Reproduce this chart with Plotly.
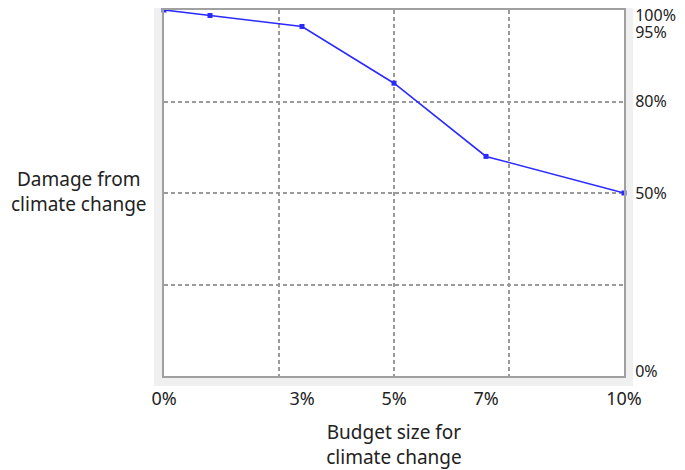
import plotly.graph_objects as go

# budget share (%) vs remaining damage (%)
budget = [0, 1, 3, 5, 7, 10]
damage = [100, 98.5, 95.5, 80, 60, 50]

x_ticks = [0, 3, 5, 7, 10]
x_labels = ['0%', '3%', '5%', '7%', '10%']

y_labels = ['100%', '95%', '80%', '50%', '0%']
y_label_at = [98.6, 93.8, 74.9, 50, 1.2]

FONT = 'Noto Sans'
TXT = '#222222'

fig = go.Figure(go.Scatter(
    x=budget, y=damage,
    mode='lines+markers',
    line=dict(color='#2a2aff', width=1.6),
    marker=dict(symbol='square', size=5, color='#2a2aff'),
    cliponaxis=False,
    hoverinfo='skip',
))

# page body has an 8px margin, so margins are shifted by 8px
fig.update_layout(
    width=677, height=462,
    margin=dict(l=156, r=61, t=2, b=94),
    paper_bgcolor='white',
    plot_bgcolor='white',
    showlegend=False,
    font=dict(family=FONT, size=18, color=TXT),
    shapes=[
        # light grey band round the plot
        dict(type='rect', xref='paper', yref='paper', layer='below',
             x0=-0.0217, x1=1.0196, y0=-0.0273, y1=1.0273,
             fillcolor='#f0f0f0', line=dict(width=0)),
        dict(type='rect', xref='paper', yref='paper', layer='below',
             x0=0, x1=1, y0=0, y1=1,
             fillcolor='white', line=dict(width=0)),
    ],
    annotations=[
        dict(text='Damage from<br>climate change', xref='paper', yref='paper',
             x=-0.338, y=0.505, xanchor='left', yanchor='middle',
             showarrow=False, align='center', font=dict(size=19)),
    ],
)

fig.update_xaxes(
    range=[0, 10], tickmode='array', tickvals=x_ticks, ticktext=x_labels,
    tickfont=dict(size=18), automargin=False, ticklabelstandoff=5,
    showgrid=False, zeroline=False, ticks='',
    showline=True, mirror=True, linecolor='#a0a0a0', linewidth=2,
    minor=dict(tickmode='array', tickvals=[2.5, 5, 7.5], showgrid=True,
               gridcolor='#9a9a9a', gridwidth=1.5, griddash='4px,3px', ticks=''),
    title=dict(text='Budget size for<br>climate change', standoff=18,
               font=dict(size=19)),
)

fig.update_yaxes(
    range=[0, 100], side='right', tickmode='array',
    tickvals=y_label_at, ticktext=y_labels,
    tickfont=dict(size=16), automargin=False, ticklabeloverflow='allow',
    showgrid=False, zeroline=False, ticks='', ticklabelstandoff=6,
    showline=True, mirror=True, linecolor='#a0a0a0', linewidth=2,
    minor=dict(tickmode='array', tickvals=[25, 50, 75], showgrid=True,
               gridcolor='#9a9a9a', gridwidth=1.5, griddash='4px,3px', ticks=''),
)

fig.write_html("out.html")
